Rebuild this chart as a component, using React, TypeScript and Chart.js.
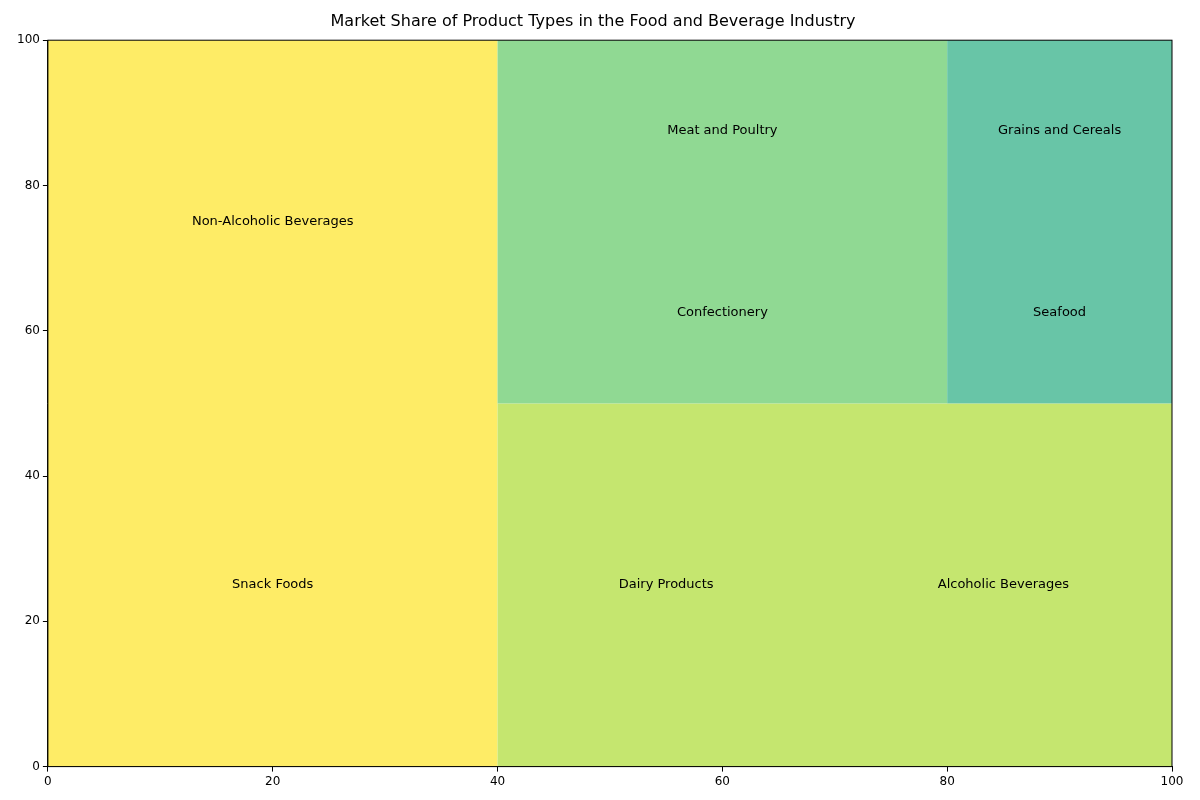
import {useEffect, useRef} from "react";
import {Chart, registerables} from "chart.js";

Chart.register(...registerables)

const categories = ["Snack Foods", "Non-Alcoholic Beverages", "Dairy Products", "Alcoholic Beverages",
  "Confectionery", "Meat and Poultry", "Seafood", "Grains and Cereals"]
// label anchor positions in data units
const labelX = [20, 20, 55, 85, 60, 60, 90, 90]
const labelY = [25, 75, 25, 25, 62.5, 87.5, 62.5, 87.5]

// filled blocks
const blockX0 = [0, 40, 40, 80]
const blockX1 = [40, 100, 80, 100]
const blockY0 = [0, 0, 50, 50]
const blockY1 = [100, 50, 100, 100]
const blockColors = ["#feec66", "#c5e66f", "#90d993", "#68c5a7"]

const axisTicks = [0, 20, 40, 60, 80, 100]

const treemapPlugin = {
  id: "treemap",
  beforeDatasetsDraw(chart: Chart) {
    const {ctx, scales} = chart
    const x = scales.x, y = scales.y
    ctx.save()
    for (let i = 0; i < blockX0.length; i++) {
      const l = x.getPixelForValue(blockX0[i]), r = x.getPixelForValue(blockX1[i])
      const t = y.getPixelForValue(blockY1[i]), b = y.getPixelForValue(blockY0[i])
      ctx.fillStyle = blockColors[i]
      ctx.fillRect(l, t, r - l, b - t)
    }
    ctx.fillStyle = "#000"
    ctx.font = "13px 'DejaVu Sans'"
    ctx.textAlign = "center"
    ctx.textBaseline = "middle"
    categories.forEach((c, i) => {
      ctx.fillText(c, x.getPixelForValue(labelX[i]), y.getPixelForValue(labelY[i]))
    })
    const a = chart.chartArea
    ctx.strokeStyle = "#000"
    ctx.lineWidth = 1
    ctx.strokeRect(a.left, a.top, a.right - a.left, a.bottom - a.top)
    ctx.restore()
  }
}

let chart: Chart
export default () => {
  const canvas = useRef<HTMLCanvasElement>(null)
  useEffect(() => {
    chart && chart.destroy()
    const axis = (pos: "bottom" | "left") => ({
      type: "linear" as const,
      position: pos,
      min: 0,
      max: 100,
      afterBuildTicks: (s: any) => { s.ticks = axisTicks.map(v => ({value: v})) },
      grid: {drawOnChartArea: false, tickLength: 5, color: "#000"},
      border: {color: "#000"},
      ticks: {color: "#000", font: {family: "DejaVu Sans", size: 12}, padding: 3},
    })
    chart = new Chart(canvas.current!, {
      type: "scatter",
      data: {datasets: [{data: [], showLine: false}]},
      options: {
        animation: false,
        responsive: false,
        layout: {padding: {left: 14, right: 28, top: 0, bottom: 8}},
        plugins: {
          legend: {display: false},
          tooltip: {enabled: false},
          title: {
            display: true,
            text: "Market Share of Product Types in the Food and Beverage Industry",
            color: "#000",
            font: {family: "DejaVu Sans", size: 16, weight: "normal"},
            padding: {top: 12, bottom: 9},
          },
        },
        scales: {x: axis("bottom"), y: axis("left")},
      },
      plugins: [treemapPlugin],
    })
    return () => {
      chart && chart.destroy()
    }
  }, [])
  return (
    <div style={{position: "absolute", left: 0, top: 0, width: 1200, height: 800, background: "#fff"}}>
      <canvas ref={canvas} width={1200} height={800}></canvas>
    </div>
  )
}
